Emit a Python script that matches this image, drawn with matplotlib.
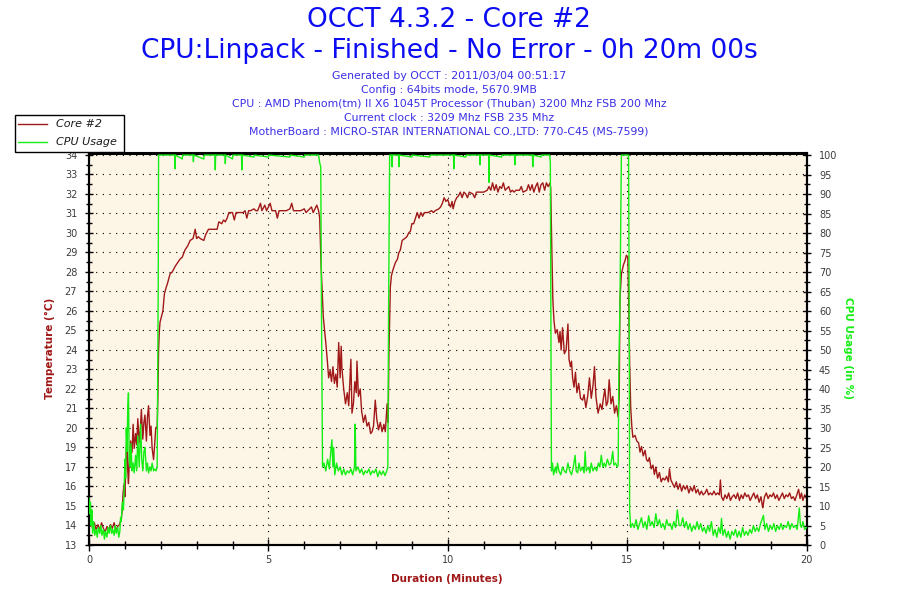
import numpy as np
import matplotlib
matplotlib.use("Agg")
import matplotlib.pyplot as plt
from matplotlib.ticker import MultipleLocator, AutoMinorLocator
from matplotlib.lines import Line2D
from matplotlib.patches import Rectangle

# ---------------- text ----------------
title_lines = ["OCCT 4.3.2 - Core #2",
               "CPU:Linpack - Finished - No Error - 0h 20m 00s"]
info_lines = ["Generated by OCCT : 2011/03/04 00:51:17",
              "Config : 64bits mode, 5670.9MB",
              "CPU : AMD Phenom(tm) II X6 1045T Processor (Thuban) 3200 Mhz FSB 200 Mhz",
              "Current clock : 3209 Mhz FSB 235 Mhz",
              "MotherBoard : MICRO-STAR INTERNATIONAL CO.,LTD: 770-C45 (MS-7599)"]
legend_labels = ["Core #2", "CPU Usage"]
x_label = "Duration (Minutes)"
temp_label = "Temperature (\u00b0C)"
cpu_label = "CPU Usage (in %)"

# ---------------- axes ticks ----------------
x_ticks = [0, 5, 10, 15, 20]
x_tick_labels = ["0", "5", "10", "15", "20"]
temp_tick_labels = ["13", "14", "15", "16", "17", "19", "20", "21", "22", "23", "24",
                    "25", "26", "27", "28", "29", "30", "31", "32", "33", "34"]
cpu_ticks = [0, 5, 10, 15, 20, 25, 30, 35, 40, 45, 50, 55, 60, 65, 70, 75, 80, 85, 90, 95, 100]
cpu_tick_labels = [str(v) for v in cpu_ticks]

# ---------------- Core #2 temperature (minutes, deg C) ----------------
temp_idle_start = [(0.00, 14.7), (0.03, 14.0), (0.06, 14.4), (0.10, 13.9), (0.15, 14.2), (0.20, 13.8),
                   (0.25, 14.1), (0.30, 13.8), (0.35, 14.2), (0.40, 13.9), (0.45, 13.7), (0.50, 14.0),
                   (0.55, 13.8), (0.60, 14.1), (0.65, 13.9), (0.70, 14.2), (0.75, 13.8), (0.80, 14.0),
                   (0.85, 14.1), (0.90, 14.4)]
temp_warmup = [(0.93, 15.0), (0.95, 15.8), (0.98, 16.3), (1.00, 15.6), (1.03, 17.5), (1.06, 19.0),
               (1.08, 17.0), (1.10, 16.3), (1.13, 17.8), (1.16, 18.6), (1.20, 18.0), (1.23, 19.5),
               (1.26, 18.2), (1.30, 19.0), (1.33, 18.4), (1.36, 19.8), (1.40, 18.5), (1.43, 19.2),
               (1.46, 20.3), (1.50, 18.7), (1.53, 19.6), (1.56, 20.0), (1.60, 18.6), (1.63, 19.9),
               (1.66, 20.5), (1.70, 18.9), (1.73, 19.4), (1.76, 18.2), (1.80, 17.6), (1.83, 18.4),
               (1.86, 19.3), (1.90, 19.4)]
temp_load1 = [(1.92, 20.9), (1.94, 23.5), (1.96, 24.5), (1.98, 25.0), (2.02, 25.3), (2.06, 25.6),
              (2.10, 26.5), (2.14, 26.8), (2.19, 27.1), (2.26, 27.6), (2.32, 27.7), (2.40, 28.0),
              (2.47, 28.2), (2.54, 28.4), (2.60, 28.5), (2.68, 28.9), (2.75, 29.1), (2.82, 29.4),
              (2.90, 29.5), (2.96, 30.0), (3.00, 29.5), (3.05, 29.6), (3.10, 29.5), (3.20, 29.4),
              (3.25, 29.7), (3.33, 30.0), (3.40, 30.0), (3.50, 30.0), (3.57, 30.0), (3.62, 30.4),
              (3.70, 30.3), (3.75, 30.5), (3.80, 30.4), (3.85, 30.6), (3.90, 30.9), (4.00, 30.9),
              (4.05, 30.5), (4.10, 30.9), (4.20, 30.9), (4.30, 30.9), (4.35, 31.0), (4.40, 30.6),
              (4.45, 31.0), (4.50, 31.0), (4.60, 31.1), (4.65, 31.0), (4.70, 31.0), (4.78, 31.4),
              (4.82, 31.0), (4.90, 31.3), (4.95, 31.0), (5.05, 31.4), (5.10, 31.0), (5.20, 31.0),
              (5.25, 30.6), (5.30, 31.0), (5.40, 31.0), (5.50, 31.0), (5.60, 31.1), (5.65, 31.4),
              (5.70, 31.0), (5.80, 31.0), (5.90, 31.0), (6.00, 31.1), (6.05, 30.9), (6.10, 31.0),
              (6.20, 31.2), (6.25, 30.9), (6.30, 31.1), (6.35, 31.3), (6.40, 31.0), (6.43, 30.6)]
temp_cool1 = [(6.47, 28.0), (6.50, 26.7), (6.53, 25.3), (6.57, 24.5), (6.60, 23.9), (6.64, 23.0),
              (6.68, 22.0), (6.72, 22.4), (6.76, 21.8), (6.80, 22.6), (6.84, 21.7), (6.88, 22.2),
              (6.92, 21.5), (6.96, 23.9), (7.00, 22.0), (7.03, 23.7), (7.05, 22.5), (7.10, 21.4),
              (7.15, 20.6), (7.20, 21.2), (7.24, 20.5), (7.30, 23.0), (7.33, 20.1), (7.37, 20.6),
              (7.41, 21.8), (7.45, 21.2), (7.47, 22.9), (7.51, 21.0), (7.56, 21.4), (7.60, 20.2),
              (7.65, 19.6), (7.70, 20.0), (7.75, 19.4), (7.80, 19.6), (7.85, 19.0), (7.89, 19.1),
              (7.93, 19.4), (7.98, 20.8), (8.02, 19.8), (8.07, 19.2), (8.12, 19.6), (8.17, 19.1),
              (8.22, 19.5), (8.26, 19.1), (8.31, 20.6), (8.34, 19.6)]
temp_load2 = [(8.36, 23.3), (8.40, 26.9), (8.43, 27.5), (8.47, 27.8), (8.54, 28.2), (8.60, 28.4),
              (8.63, 28.7), (8.68, 28.9), (8.73, 29.4), (8.80, 29.5), (8.86, 29.6), (8.91, 29.8),
              (8.96, 29.9), (9.00, 30.3), (9.05, 30.3), (9.10, 30.6), (9.15, 30.9), (9.20, 30.6),
              (9.25, 30.9), (9.30, 30.7), (9.35, 30.9), (9.45, 30.9), (9.55, 31.0), (9.60, 30.9),
              (9.65, 31.0), (9.75, 31.1), (9.80, 31.2), (9.85, 31.4), (9.90, 31.7), (9.95, 31.5),
              (10.00, 31.6), (10.05, 31.3), (10.08, 31.2), (10.12, 31.5), (10.15, 31.1), (10.20, 31.5),
              (10.25, 31.7), (10.30, 31.8), (10.35, 32.0), (10.40, 31.7), (10.45, 32.0), (10.50, 31.9),
              (10.55, 31.7), (10.60, 32.0), (10.70, 31.9), (10.75, 31.7), (10.80, 32.0), (10.90, 32.0),
              (11.00, 32.0), (11.10, 32.1), (11.15, 32.3), (11.20, 32.1), (11.25, 32.5), (11.30, 32.1),
              (11.35, 32.4), (11.40, 32.0), (11.45, 32.3), (11.50, 32.2), (11.55, 32.5), (11.60, 32.1),
              (11.70, 32.3), (11.75, 32.0), (11.80, 32.1), (11.85, 32.0), (11.90, 32.1), (12.00, 32.1),
              (12.05, 32.3), (12.10, 32.0), (12.20, 32.1), (12.25, 32.4), (12.30, 32.1), (12.35, 32.4),
              (12.40, 32.0), (12.45, 32.3), (12.50, 32.5), (12.55, 32.0), (12.60, 32.4), (12.65, 32.5),
              (12.70, 32.1), (12.75, 32.5), (12.80, 32.3), (12.85, 32.5), (12.87, 32.2)]
temp_cool2 = [(12.90, 29.0), (12.93, 26.2), (12.96, 25.1), (13.00, 24.4), (13.05, 24.6), (13.10, 23.9),
              (13.13, 24.5), (13.16, 23.5), (13.20, 24.7), (13.25, 23.3), (13.30, 23.5), (13.35, 24.9),
              (13.38, 23.0), (13.42, 22.6), (13.45, 22.9), (13.48, 22.0), (13.52, 21.5), (13.56, 22.3),
              (13.60, 21.2), (13.65, 21.7), (13.70, 20.9), (13.76, 20.8), (13.80, 21.1), (13.85, 20.4),
              (13.90, 21.0), (13.95, 22.0), (14.00, 20.9), (14.05, 21.6), (14.09, 22.6), (14.13, 21.0),
              (14.19, 20.1), (14.25, 20.6), (14.30, 20.3), (14.33, 20.8), (14.38, 21.4), (14.42, 20.5),
              (14.46, 20.7), (14.50, 21.9), (14.55, 20.6), (14.60, 21.0), (14.65, 20.1), (14.70, 20.5),
              (14.75, 19.9), (14.78, 21.0)]
temp_spike = [(14.80, 26.2), (14.84, 27.6), (14.90, 28.1), (14.94, 28.3), (14.98, 28.6), (15.02, 28.5)]
temp_idle_end = [(15.05, 25.3), (15.07, 22.8), (15.10, 20.4), (15.13, 19.4), (15.16, 18.8), (15.22, 18.9),
                 (15.27, 18.6), (15.32, 18.5), (15.36, 18.0), (15.40, 18.3), (15.45, 17.8), (15.50, 18.1),
                 (15.54, 17.6), (15.58, 17.5), (15.62, 17.7), (15.67, 17.1), (15.72, 17.3), (15.76, 16.8),
                 (15.80, 17.2), (15.85, 16.6), (15.90, 16.9), (15.95, 16.4), (16.00, 16.6), (16.05, 16.5),
                 (16.10, 16.7), (16.15, 16.4), (16.18, 17.1), (16.22, 16.5), (16.27, 16.3), (16.32, 16.1),
                 (16.37, 16.4), (16.42, 16.0), (16.47, 16.3), (16.52, 15.9), (16.57, 16.2), (16.62, 16.0),
                 (16.67, 16.2), (16.72, 15.8), (16.77, 16.1), (16.82, 15.9), (16.87, 16.2), (16.92, 15.8),
                 (16.97, 16.0), (17.02, 15.7), (17.07, 15.9), (17.12, 15.7), (17.17, 15.8), (17.22, 16.0),
                 (17.27, 15.7), (17.32, 15.8), (17.37, 15.7), (17.42, 15.9), (17.47, 15.7), (17.52, 15.8),
                 (17.57, 15.7), (17.60, 16.5), (17.63, 15.6), (17.68, 15.4), (17.73, 15.7), (17.78, 15.5),
                 (17.83, 15.8), (17.88, 15.4), (17.93, 15.6), (17.98, 15.7), (18.03, 15.5), (18.08, 15.8),
                 (18.13, 15.4), (18.18, 15.7), (18.23, 15.5), (18.28, 15.8), (18.33, 15.6), (18.38, 15.7),
                 (18.43, 15.4), (18.48, 15.6), (18.53, 15.8), (18.58, 15.5), (18.63, 15.7), (18.68, 15.3),
                 (18.73, 15.6), (18.78, 15.0), (18.83, 15.6), (18.88, 15.8), (18.93, 15.5), (18.98, 15.7),
                 (19.03, 15.6), (19.08, 15.8), (19.13, 15.5), (19.18, 15.7), (19.23, 15.4), (19.28, 15.6),
                 (19.33, 15.8), (19.38, 15.5), (19.43, 15.7), (19.48, 15.6), (19.53, 15.8), (19.58, 15.5),
                 (19.63, 15.6), (19.68, 15.4), (19.73, 15.7), (19.78, 16.0), (19.82, 15.5), (19.86, 15.8),
                 (19.90, 15.4), (19.95, 15.7), (20.00, 15.5)]

# ---------------- CPU usage (minutes, %) ----------------
cpu_idle_start = [(0.00, 12), (0.02, 8), (0.04, 11), (0.06, 5), (0.08, 9), (0.10, 3), (0.13, 6),
                  (0.16, 2.5), (0.20, 4), (0.23, 2), (0.26, 4.5), (0.30, 3), (0.33, 5), (0.36, 2.5),
                  (0.40, 4), (0.43, 1.5), (0.46, 3.5), (0.50, 2), (0.53, 4.5), (0.56, 3), (0.60, 5),
                  (0.63, 3), (0.66, 4), (0.70, 2.5), (0.73, 5), (0.76, 3), (0.80, 4.5), (0.83, 2),
                  (0.86, 3.5), (0.88, 7), (0.90, 6), (0.93, 11), (0.96, 9)]
cpu_warmup = [(0.98, 14), (1.00, 22), (1.02, 17), (1.04, 30), (1.06, 24), (1.08, 35), (1.10, 39),
              (1.12, 22), (1.14, 20), (1.17, 26), (1.20, 19), (1.23, 21), (1.26, 18.5), (1.30, 23),
              (1.33, 19), (1.36, 28), (1.40, 20), (1.44, 31), (1.47, 22), (1.50, 19), (1.53, 24),
              (1.56, 25), (1.60, 19), (1.63, 21), (1.66, 18.5), (1.70, 20), (1.73, 19), (1.76, 21),
              (1.80, 19), (1.83, 19.5), (1.87, 19), (1.90, 20)]
cpu_load1 = [(1.91, 37), (1.93, 67), (1.94, 100), (2.39, 100), (2.40, 96.5), (2.41, 100), (2.60, 99),
             (2.61, 100), (2.90, 100), (2.91, 98.3), (2.92, 100), (3.20, 99), (3.21, 100), (3.51, 100),
             (3.52, 96.2), (3.53, 100), (3.79, 100), (3.80, 97.8), (3.81, 100), (4.00, 99), (4.01, 100),
             (4.25, 100), (4.26, 96.2), (4.27, 100), (4.60, 99.5), (4.61, 100), (5.00, 99.5), (5.01, 100),
             (5.60, 99.5), (5.61, 100), (6.00, 99.5), (6.01, 100), (6.40, 100), (6.43, 98)]
cpu_cool1 = [(6.46, 97), (6.48, 60), (6.51, 20), (6.55, 21), (6.60, 19), (6.65, 22), (6.70, 19.5),
             (6.74, 24), (6.77, 27), (6.80, 20), (6.82, 25), (6.85, 18), (6.90, 21), (6.95, 19),
             (7.00, 20), (7.05, 18), (7.10, 19.5), (7.15, 18), (7.20, 19), (7.25, 18.5), (7.30, 19.5),
             (7.35, 18), (7.40, 20), (7.42, 31), (7.44, 19), (7.50, 20), (7.55, 18.5), (7.60, 19.5),
             (7.65, 18), (7.70, 19), (7.75, 18.5), (7.80, 19.5), (7.85, 18), (7.90, 19), (7.95, 18.5),
             (8.00, 19.5), (8.05, 17.5), (8.10, 19), (8.15, 18), (8.20, 19), (8.25, 17.8), (8.30, 19),
             (8.33, 20)]
cpu_load2 = [(8.35, 59), (8.38, 100), (8.44, 100), (8.45, 97), (8.46, 100), (8.63, 100), (8.64, 97),
             (8.65, 100), (9.00, 99.5), (9.01, 100), (9.50, 99.5), (9.51, 100), (10.16, 100),
             (10.17, 96.5), (10.18, 100), (10.50, 99.5), (10.51, 100), (10.89, 100), (10.90, 97.5),
             (10.91, 100), (11.14, 100), (11.15, 93), (11.16, 100), (11.50, 99.5), (11.51, 100),
             (11.86, 100), (11.87, 97.5), (11.88, 100), (12.36, 100), (12.37, 97), (12.38, 100),
             (12.60, 99.5), (12.61, 100), (12.84, 100), (12.86, 98)]
cpu_cool2 = [(12.87, 70), (12.89, 19), (12.92, 21), (12.95, 18), (13.00, 20), (13.03, 18.5), (13.06, 21),
             (13.10, 19), (13.15, 18), (13.20, 20), (13.25, 19), (13.30, 18.5), (13.35, 21), (13.40, 19),
             (13.45, 18), (13.50, 20), (13.55, 23), (13.58, 19), (13.62, 18.5), (13.66, 21), (13.70, 19),
             (13.75, 20), (13.80, 18.5), (13.83, 24), (13.86, 19), (13.92, 20), (13.96, 18.5), (14.00, 21),
             (14.05, 19), (14.10, 20), (14.15, 19), (14.20, 21), (14.24, 20), (14.28, 23), (14.32, 20),
             (14.36, 21), (14.40, 20), (14.45, 22), (14.50, 20.5), (14.55, 21), (14.60, 24), (14.63, 20.5),
             (14.68, 21), (14.72, 20), (14.75, 20.5)]
cpu_spike = [(14.77, 45), (14.80, 62), (14.84, 100), (15.04, 100), (15.06, 55), (15.07, 9), (15.10, 4.5)]
cpu_idle_end = [(15.15, 5.5), (15.20, 4.5), (15.25, 6.5), (15.30, 4), (15.35, 5.5), (15.40, 7), (15.45, 4.5),
                (15.50, 6), (15.55, 4), (15.60, 7.5), (15.65, 5), (15.70, 6), (15.75, 4.5), (15.80, 8),
                (15.85, 5), (15.90, 6.5), (15.95, 4.5), (16.00, 5.5), (16.05, 4), (16.10, 6.5), (16.15, 5),
                (16.20, 5.5), (16.25, 4), (16.30, 6), (16.35, 4.5), (16.40, 9), (16.45, 5), (16.50, 5),
                (16.55, 7), (16.60, 4.5), (16.65, 6), (16.70, 4), (16.75, 5.5), (16.80, 3.5), (16.85, 5),
                (16.90, 4), (16.95, 6), (17.00, 4), (17.05, 5.5), (17.10, 3.5), (17.15, 4.5), (17.20, 3),
                (17.25, 5), (17.30, 3.5), (17.35, 6), (17.40, 2.5), (17.45, 4), (17.50, 2), (17.55, 4.5),
                (17.60, 3), (17.63, 6.8), (17.67, 2.5), (17.72, 4), (17.77, 2), (17.82, 3.5), (17.87, 1.5),
                (17.92, 3.5), (17.97, 2.5), (18.02, 4), (18.07, 2), (18.12, 3.5), (18.17, 2), (18.22, 4.5),
                (18.27, 2.5), (18.32, 3.5), (18.37, 2.5), (18.42, 4), (18.47, 3), (18.52, 5), (18.57, 3.5),
                (18.62, 4.5), (18.67, 3.5), (18.72, 5.5), (18.80, 7.6), (18.84, 4), (18.89, 5.5),
                (18.94, 3.5), (18.99, 5), (19.04, 4), (19.09, 5.5), (19.14, 3.5), (19.19, 5), (19.24, 4),
                (19.29, 5.5), (19.34, 4), (19.39, 5), (19.44, 4.5), (19.49, 6), (19.54, 4), (19.59, 5.5),
                (19.64, 4.5), (19.69, 5), (19.74, 4), (19.80, 9.5), (19.83, 5), (19.86, 4.5), (19.90, 6),
                (19.95, 4), (20.00, 4.5)]


def unzip(*segments):
    pts = [p for seg in segments for p in seg]
    return [p[0] for p in pts], [p[1] for p in pts]


temp_x, temp_y = unzip(temp_idle_start, temp_warmup, temp_load1, temp_cool1, temp_load2,
                       temp_cool2, temp_spike, temp_idle_end)
cpu_x, cpu_y = unzip(cpu_idle_start, cpu_warmup, cpu_load1, cpu_cool1, cpu_load2,
                     cpu_cool2, cpu_spike, cpu_idle_end)

# ---------------- styling ----------------
temp_color = "#a01818"
cpu_color = "#14ee14"
title_color = "#0c0cf2"
info_color = "#3a2ee6"
tick_color = "#3c3c3c"
W, H = 900, 600

fig = plt.figure(figsize=(9, 6), dpi=100)
fig.patch.set_facecolor("white")
ax = fig.add_axes([89 / W, 55 / H, (806.5 - 89) / W, (545 - 153.5) / H])
ax.set_facecolor("#fdf6e7")
ax2 = ax.twinx()

ax.plot(temp_x, temp_y, color=temp_color, lw=1.0, zorder=3)
ax2.plot(cpu_x, cpu_y, color=cpu_color, lw=1.0, zorder=3)

ax.set_xlim(0, 20)
ax.set_ylim(13, 34.08)
ax2.set_ylim(0, 100.4)

temp_ticks = np.linspace(13, 34, len(temp_tick_labels))
ax.set_yticks(temp_ticks, temp_tick_labels)
ax.yaxis.set_minor_locator(AutoMinorLocator(2))
ax2.set_yticks(cpu_ticks, cpu_tick_labels)
ax2.yaxis.set_minor_locator(MultipleLocator(2.5))
ax.set_xticks(x_ticks, x_tick_labels)
ax.xaxis.set_minor_locator(MultipleLocator(1))

ax.grid(True, which="major", color="black", linestyle=(0, (1, 5)), linewidth=0.8)

for a in (ax, ax2):
    for s in a.spines.values():
        s.set_linewidth(1.5)
        s.set_color("black")

ax.tick_params(axis="x", which="major", direction="inout", length=9, width=1,
               labelsize=7, pad=2.5, labelcolor=tick_color)
ax.tick_params(axis="x", which="minor", direction="inout", length=6, width=1)
ax.tick_params(axis="y", which="major", direction="inout", length=6, width=1,
               labelsize=7, pad=5.5, labelcolor=tick_color)
ax.tick_params(axis="y", which="minor", direction="inout", length=4, width=1)
ax2.tick_params(axis="y", which="major", direction="inout", length=6, width=1,
                labelsize=7, pad=6.0, labelcolor=tick_color)
ax2.tick_params(axis="y", which="minor", direction="inout", length=4, width=1)

# titles
fig.text(449 / W, 1 - 20 / H, title_lines[0], ha="center", va="center", fontsize=19, color=title_color)
fig.text(449 / W, 1 - 51 / H, title_lines[1], ha="center", va="center", fontsize=19, color=title_color)
for i, line in enumerate(info_lines):
    fig.text(449 / W, 1 - (76 + 14 * i) / H, line, ha="center", va="center",
             fontsize=7.8, color=info_color)

# axis labels
fig.text(50 / W, 1 - 348 / H, temp_label, rotation=90, ha="center", va="center",
         fontsize=7.5, fontweight="bold", color=temp_color)
fig.text(848 / W, 1 - 348 / H, cpu_label, rotation=270, ha="center", va="center",
         fontsize=7.5, fontweight="bold", color=cpu_color)
fig.text(447 / W, 1 - 579 / H, x_label, ha="center", va="center",
         fontsize=7.5, fontweight="bold", color=temp_color)

# legend box (outside the plot, top-left)
fig.add_artist(Rectangle((15 / W, 1 - 152 / H), 109 / W, 37 / H, transform=fig.transFigure,
                         facecolor="white", edgecolor="black", lw=1.0, zorder=10))
for i, (lab, col) in enumerate(zip(legend_labels, [temp_color, cpu_color])):
    yy = 1 - (124 + 18 * i) / H
    fig.add_artist(Line2D([18 / W, 47 / W], [yy, yy], transform=fig.transFigure,
                          color=col, lw=1.0, zorder=11))
    fig.text(56 / W, yy, lab, ha="left", va="center", fontsize=8, style="italic",
             color="#1a1a1a", zorder=11)

fig.savefig("out.png", dpi=100)
